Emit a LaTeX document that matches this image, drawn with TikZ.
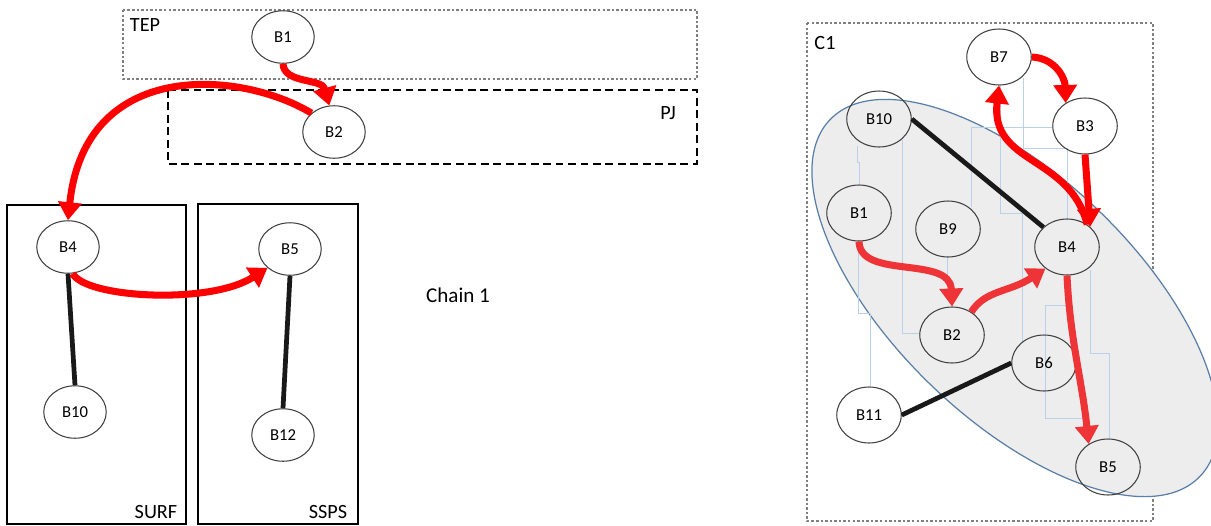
\documentclass[tikz,border=0pt]{standalone}
\usepackage{fontspec}
\setmainfont{Carlito}
\usetikzlibrary{shapes.geometric,arrows.meta}
\definecolor{chainred}{HTML}{FF0000}
\definecolor{softred}{HTML}{EE3437}
\definecolor{wireblue}{HTML}{B9D1E9}
\definecolor{zonefill}{HTML}{EDEDED}
\definecolor{zoneedge}{HTML}{5A7FA7}

\begin{document}
\begin{tikzpicture}[x=0.02cm,y=-0.02cm,
    blob/.style={ellipse,draw=black!75,line width=0.6pt,inner sep=0pt,
      minimum width=1.25cm,minimum height=1.05cm,font=\fontsize{9.5}{11}\selectfont},
    bigblob/.style={blob,minimum width=1.29cm,minimum height=1.12cm},
    flow/.style={draw=chainred,line width=4pt,-{Triangle[length=0.36cm,width=0.46cm]}},
    softflow/.style={flow,draw=softred},
    link/.style={draw=black!90,line width=2.7pt},
    wire/.style={draw=wireblue,line width=0.5pt},
    grpbox/.style={draw=black,line width=1.4pt},
    dotbox/.style={draw=black!50,line width=1.4pt,dash pattern=on 1.4pt off 1.2pt},
    dashbox/.style={draw=black,line width=1.4pt,dash pattern=on 4.5pt off 2.6pt},
    boxlabel/.style={inner sep=0pt,font=\fontsize{11.5}{13}\selectfont}]

   \fill[white] (0,0) rectangle (1211,525);
   \useasboundingbox (0,0) rectangle (1211,525);

   % TEP / PJ
   \draw[dotbox] (123,10) rectangle (697,79);
   \draw[dashbox] (168,90) rectangle (697,164);
   \node[boxlabel] (teplbl) at (145,25) {TEP};
   \node[boxlabel] (pjlbl) at (668,113) {PJ};
   \node[blob] (tepB1) at (283,37) {B1};
   \node[blob] (pjB2) at (334,132) {B2};

   % SURF / SSPS
   \draw[grpbox] (7,205) rectangle (186,524);
   \draw[grpbox] (198,204) rectangle (358,524);
   \node[boxlabel] (surflbl) at (156,512) {SURF};
   \node[boxlabel] (sspslbl) at (328,512) {SSPS};
   \node[blob] (surfB4) at (68,247) {B4};
   \node[blob] (surfB10) at (75,412) {B10};
   \node[blob] (sspsB5) at (290,249) {B5};
   \node[blob] (sspsB12) at (283,435) {B12};

   \draw[link] (surfB4.south) -- (surfB10.north);
   \draw[link] (sspsB5.south) -- (sspsB12.north);

   \draw[flow] (tepB1.south) .. controls (284,84) and (322,78) .. (pjB2.100);
   \draw[flow] (pjB2.140) .. controls (240,70) and (85,58) .. (surfB4.north);
   \draw[flow] (surfB4.-80) .. controls (85,298) and (210,305) .. (sspsB5.-140);

   \node[inner sep=0pt,font=\fontsize{12}{14}\selectfont] (chain) at (458,295) {Chain 1};

   % C1
   \draw[dotbox] (807,23) rectangle (1153,521);
   \node[boxlabel] (c1lbl) at (825,43) {C1};
   \draw[fill=zonefill,draw=zoneedge,line width=0.7pt,rotate around={-44:(1015,298)}]
     (1015,298) ellipse [x radius=5.14cm,y radius=2.42cm];

%   \draw[wire] (857,146) -- (857,162);
   \draw[wire] (857,146) -- (857,162) -- (859,162) -- (859,185);
   \draw[wire] (902,140) -- (902,333) -- (920,333);
   \draw[wire] (858,240) -- (858,313) -- (870,313) -- (870,387);
   \draw[wire] (947,257) -- (947,280) -- (952,280) -- (952,307);
   \draw[wire] (971,207) -- (971,127) -- (1053,127);
   \draw[wire] (1000,85) -- (1000,213) -- (1022,213) -- (1022,342);
   \draw[wire] (1023,78) -- (1023,148) -- (1067,148) -- (1067,219);
   \draw[wire] (1067,275) -- (1067,305) -- (1045,305) -- (1045,418) -- (1087,418) -- (1087,442);
   \draw[wire] (1090,270) -- (1090,353) -- (1109,353) -- (1109,439);

   \node[bigblob] (c1B7) at (999,57) {B7};
   \node[bigblob] (c1B3) at (1085,126) {B3};
   \node[bigblob] (c1B10) at (879,119) {B10};
   \node[bigblob] (c1B1) at (859,213) {B1};
   \node[bigblob] (c1B9) at (948,229) {B9};
   \node[bigblob] (c1B4) at (1067,247) {B4};
   \node[bigblob] (c1B2) at (952,335) {B2};
   \node[bigblob] (c1B6) at (1044,363) {B6};
   \node[bigblob] (c1B11) at (869,415) {B11};
   \node[bigblob] (c1B5) at (1108,467) {B5};

   \draw[link] (c1B10.east) -- (c1B4.140);
   \draw[link] (c1B11.east) -- (c1B6.west);

   \draw[flow] (c1B7.east) .. controls (1055,58) and (1065,78) .. (c1B3.130);
   \draw[flow] (c1B4.48) .. controls (1070,155) and (990,165) .. (c1B7.south);
   \draw[flow] (c1B3.south) -- (c1B4.41);
   \draw[softflow] (c1B1.south) .. controls (860,280) and (950,255) .. (c1B2.north);
   \draw[softflow] (c1B2.50) .. controls (985,290) and (1010,292) .. (c1B4.-135);
   \draw[softflow] (c1B4.south) .. controls (1070,340) and (1082,380) .. (c1B5.130);
\end{tikzpicture}
\end{document}
